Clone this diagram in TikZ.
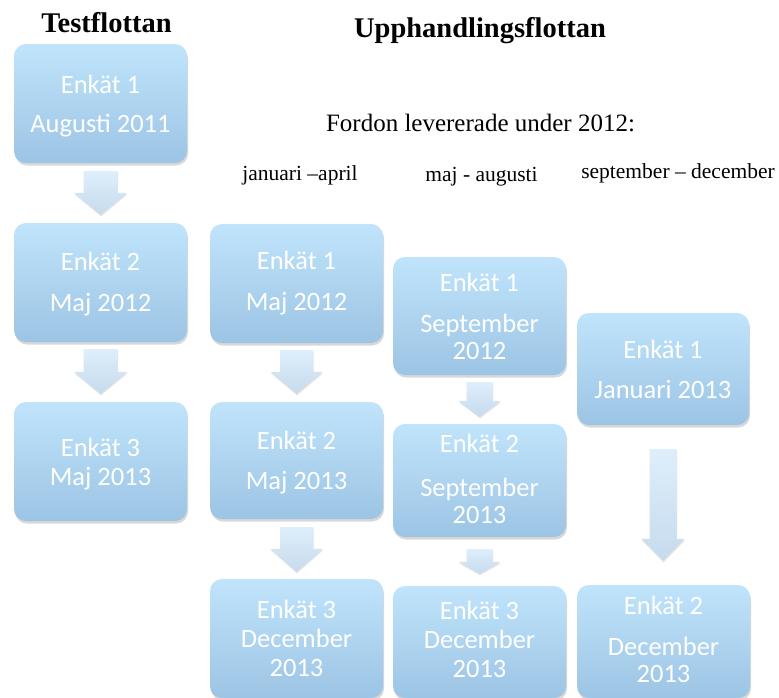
\documentclass[tikz,border=0pt]{standalone}
\usepackage{fontspec}
\setmainfont{Liberation Serif}
\newfontfamily\boxfont{Carlito}
\usetikzlibrary{shadows,calc}
\definecolor{boxtop}{RGB}{192,228,251}
\definecolor{boxbot}{RGB}{156,196,228}
\definecolor{arrtop}{RGB}{222,238,251}
\definecolor{arrbot}{RGB}{198,219,238}
\tikzset{
  stagebox/.style={rounded corners=12pt, top color=boxtop, bottom color=boxbot,
    minimum width=173pt, minimum height=119pt, inner sep=0pt, text=white,
    font=\boxfont\fontsize{26.5}{29}\selectfont, align=center,
    drop shadow={shadow xshift=1pt, shadow yshift=-2.5pt, opacity=.25, fill=black!60}},
  blockarr/.style={top color=arrtop, bottom color=arrbot, draw=none,
    drop shadow={shadow xshift=0.5pt, shadow yshift=-1.5pt, opacity=.18, fill=black!60}},
  headtxt/.style={font=\bfseries\fontsize{28.5}{32}\selectfont, anchor=base, inner sep=0pt},
  subtxt/.style={font=\fontsize{25}{29}\selectfont, anchor=base, inner sep=0pt},
  coltxt/.style={font=\fontsize{21.5}{25}\selectfont, anchor=base, inner sep=0pt}
}
% invisible struts to nudge text inside a box
\newcommand\tophi[1]{\rule{0pt}{#1pt}}
\newcommand\botlo[1]{\rule[-#1pt]{0pt}{0pt}}
% #1 from node, #2 to node, #3 top gap, #4 bottom gap, #5 head length, #6 shaft half width, #7 head half width
\newcommand\blockarrow[7]{%
  \path[blockarr] let \p1=($(#1.south)+(0,#3)$), \p2=($(#2.north)+(0,-#4)$) in
    (\x1-#6pt,\y1) -- (\x1+#6pt,\y1) -- (\x1+#6pt,\y2+#5pt) -- (\x1+#7pt,\y2+#5pt)
    -- (\x1,\y2) -- (\x1-#7pt,\y2+#5pt) -- (\x1-#6pt,\y2+#5pt) -- cycle;}
\begin{document}
\begin{tikzpicture}[x=1pt,y=-1pt]
\fill[white] (0,0) rectangle (779,697);
\useasboundingbox (0,0) rectangle (779,697);

% headings
\node[headtxt] (h1) at (106.5,32) {Testflottan};
\node[headtxt] (h2) at (480,37) {Upphandlingsflottan};
\node[subtxt] (sub) at (480.5,131) {Fordon levererade under 2012:};
\node[coltxt] (l1) at (300,180) {januari –april};
\node[coltxt] (l2) at (481.5,181) {maj - augusti};
\node[coltxt] (l3) at (678,178) {september – december};

% Testflottan
\node[stagebox] (t1) at (100.5,103.5) {\tophi{23}Enkät 1\\[10pt]Augusti 2011};
\node[stagebox] (t2) at (100.5,282.5) {\tophi{21}Enkät 2\\[12pt]Maj 2012};
\node[stagebox] (t3) at (100.5,461.5) {\tophi{23}Enkät 3\\Maj 2013};

% januari - april
\node[stagebox] (a1) at (296.5,283.5) {Enkät 1\\[12pt]Maj 2012};
\node[stagebox, minimum height=117pt] (a2) at (296.5,460.5) {\tophi{22}Enkät 2\\[11pt]Maj 2013};
\node[stagebox] (a3) at (296.5,638.5) {Enkät 3\\December\\2013};

% maj - augusti
\node[stagebox, minimum height=118pt] (b1) at (479.5,316) {Enkät 1\\[12pt]September\\[-2pt]2012};
\node[stagebox, minimum height=113pt] (b2) at (479.5,480.5) {Enkät 2\\[15pt]September\\[-2pt]2013\botlo{2.5}};
\node[stagebox, minimum height=112pt] (b3) at (479.5,642) {Enkät 3\\December\\2013\botlo{4.5}};

% september - december
\node[stagebox, minimum width=172pt, minimum height=112pt] (c1) at (663,369) {Enkät 1\\[11pt]Januari 2013};
\node[stagebox, minimum width=173pt, minimum height=113pt] (c2) at (663.5,641.5) {Enkät 2\\[12pt]December\\[-2pt]2013\botlo{3.5}};

% arrows
\blockarrow{t1}{t2}{8}{8}{22}{17}{26.5}
\blockarrow{t2}{t3}{7}{8}{22}{17}{26.5}
\blockarrow{a1}{a2}{7}{8}{22}{16.5}{26}
\blockarrow{a2}{a3}{8}{7}{23}{16.5}{26}
\blockarrow{b1}{b2}{7}{7}{16}{13}{21}
\blockarrow{b2}{b3}{12}{12}{12}{13}{21}
\blockarrow{c1}{c2}{24}{24}{22}{13.5}{21.5}
\end{tikzpicture}
\end{document}
